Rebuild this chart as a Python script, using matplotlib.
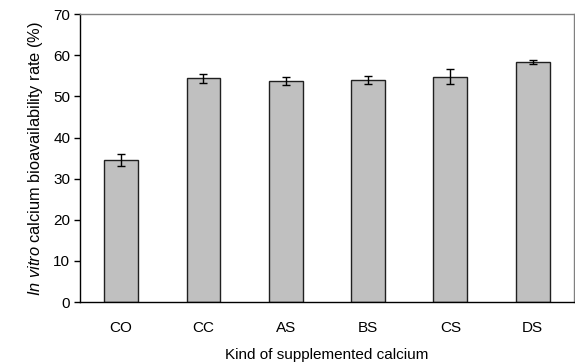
import matplotlib.pyplot as plt

plt.rcParams["font.family"] = ["Liberation Sans", "DejaVu Sans"]
plt.rcParams["mathtext.fontset"] = "custom"
plt.rcParams["mathtext.rm"] = "Liberation Sans"
plt.rcParams["mathtext.it"] = "Liberation Sans:italic"

categories = ["CO", "CC", "AS", "BS", "CS", "DS"]
rates = [34.5, 54.4, 53.8, 54.0, 54.8, 58.4]
errors = [1.4, 1.1, 1.0, 1.0, 1.9, 0.5]
y_ticks = [0, 10, 20, 30, 40, 50, 60, 70]

fig = plt.figure(figsize=(5.75, 3.63), dpi=100)
ax = fig.add_axes([0.139, 0.168, 0.859, 0.793])

x = range(len(categories))
ax.bar(x, rates, width=0.41, color="#c0c0c0", edgecolor="#202020", linewidth=1.0)
ax.errorbar(x, rates, yerr=errors, fmt="none", ecolor="black", elinewidth=1.0,
            capsize=3, capthick=1.0)

ax.set_xlim(-0.5, len(categories) - 0.5)
ax.set_ylim(0, 70)
ax.set_yticks(y_ticks)
ax.set_xticks(list(x))
ax.set_xticklabels(categories)
ax.tick_params(axis="x", length=0, pad=14, labelsize=11)
ax.tick_params(axis="y", length=4, width=1, direction="out", labelsize=11, pad=3)

for side in ("top", "right"):
    ax.spines[side].set_color("#808080")
for side in ("left", "bottom"):
    ax.spines[side].set_color("black")
for s in ax.spines.values():
    s.set_linewidth(1.0)

ax.set_ylabel(r"$\mathit{In\ vitro}$ calcium bioavailability rate (%)", fontsize=11.8, labelpad=6)
ax.set_xlabel("Kind of supplemented calcium", fontsize=11, labelpad=9)

fig.savefig("out.png", dpi=100)
